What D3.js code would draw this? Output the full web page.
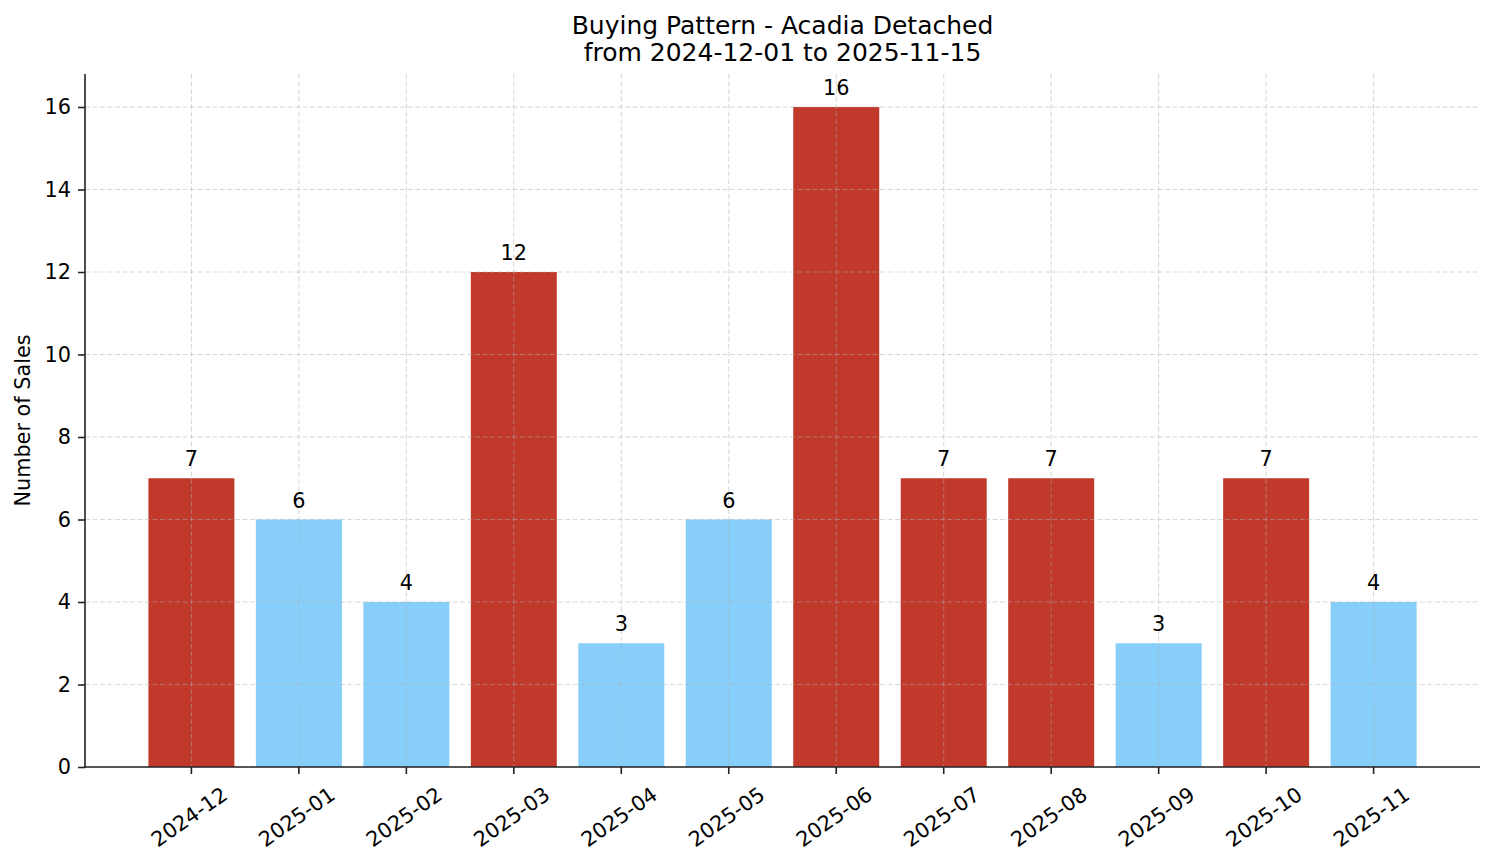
<!DOCTYPE html>
<html>
<head>
<meta charset="utf-8">
<script src="https://cdn.jsdelivr.net/npm/d3@7"></script>
<style>
  body { margin: 0; background: #fff; }
  svg { display: block; font-family: "DejaVu Sans", sans-serif; }
</style>
</head>
<body>
<div id="chart"></div>
<script>
// months and sales counts
const months = ['2024-12', '2025-01', '2025-02', '2025-03', '2025-04', '2025-05',
                '2025-06', '2025-07', '2025-08', '2025-09', '2025-10', '2025-11'];
const sales = [7, 6, 4, 12, 3, 6, 16, 7, 7, 3, 7, 4];
const yTicks = [0, 2, 4, 6, 8, 10, 12, 14, 16];
const titleLines = ['Buying Pattern - Acadia Detached', 'from 2024-12-01 to 2025-11-15'];

document.addEventListener('DOMContentLoaded', function () {
  const w = 1494, h = 863;
  const left = 85, right = 1480, top = 74, bottom = 767;

  const svg = d3.select('#chart').append('svg')
    .attr('width', w)
    .attr('height', h);

  // above-average months get the red colour
  const avg = d3.mean(sales);
  const data = months.map((m, i) => ({ month: m, value: sales[i] }));

  const xScale = d3.scaleBand()
    .domain(months)
    .range([left, right])
    .paddingInner(0.2)
    .paddingOuter(0.59);

  const yScale = d3.scaleLinear()
    .domain([0, 16.8])
    .range([bottom, top]);

  // bars
  svg.selectAll('rect.bar')
    .data(data)
    .enter()
    .append('rect')
    .attr('class', 'bar')
    .attr('x', d => xScale(d.month))
    .attr('width', xScale.bandwidth())
    .attr('y', d => yScale(d.value))
    .attr('height', d => yScale(0) - yScale(d.value))
    .attr('fill', d => d.value > avg ? '#c0392b' : '#87cefa');

  // grid on top of bars, like the original
  const grid = svg.append('g').attr('class', 'grid');
  grid.selectAll('line.gy')
    .data(yTicks)
    .enter()
    .append('line')
    .attr('x1', left).attr('x2', right)
    .attr('y1', d => yScale(d)).attr('y2', d => yScale(d))
    .attr('stroke', '#b0b0b0')
    .attr('stroke-opacity', 0.5)
    .attr('stroke-width', 1)
    .attr('stroke-dasharray', '5,2.5');
  grid.selectAll('line.gx')
    .data(months)
    .enter()
    .append('line')
    .attr('x1', d => xScale(d) + xScale.bandwidth() / 2)
    .attr('x2', d => xScale(d) + xScale.bandwidth() / 2)
    .attr('y1', top).attr('y2', bottom)
    .attr('stroke', '#b0b0b0')
    .attr('stroke-opacity', 0.5)
    .attr('stroke-width', 1)
    .attr('stroke-dasharray', '5,2.5');

  // value labels
  svg.selectAll('text.val')
    .data(data)
    .enter()
    .append('text')
    .attr('class', 'val')
    .attr('x', d => xScale(d.month) + xScale.bandwidth() / 2)
    .attr('y', d => yScale(d.value) - 12)
    .attr('text-anchor', 'middle')
    .attr('font-size', '20.8px')
    .attr('fill', '#000')
    .text(d => d.value);

  // y axis
  const yAxis = d3.axisLeft(yScale).tickValues(yTicks).tickSize(7).tickPadding(7);
  const gy = svg.append('g')
    .attr('transform', 'translate(' + left + ',0)')
    .call(yAxis);
  gy.select('.domain').remove();
  gy.selectAll('.tick line').attr('stroke', '#222').attr('stroke-width', 1.6);
  gy.selectAll('.tick text')
    .attr('font-size', '20.8px')
    .attr('font-family', '"DejaVu Sans", sans-serif')
    .attr('fill', '#000');

  // x axis
  const xAxis = d3.axisBottom(xScale).tickSize(7).tickPadding(6);
  const gx = svg.append('g')
    .attr('transform', 'translate(0,' + bottom + ')')
    .call(xAxis);
  gx.select('.domain').remove();
  gx.selectAll('.tick line').attr('stroke', '#222').attr('stroke-width', 1.6);
  gx.selectAll('.tick text')
    .attr('font-size', '20.8px')
    .attr('font-family', '"DejaVu Sans", sans-serif')
    .attr('fill', '#000')
    .attr('text-anchor', 'middle')
    .attr('dy', null)
    .attr('x', -2)
    .attr('y', 50)
    .attr('dominant-baseline', 'central')
    .attr('transform', 'rotate(-35,-2,50)');

  // spines
  svg.append('line')
    .attr('x1', left).attr('x2', left)
    .attr('y1', top).attr('y2', bottom + 0.8)
    .attr('stroke', '#222').attr('stroke-width', 1.6);
  svg.append('line')
    .attr('x1', left - 0.8).attr('x2', right)
    .attr('y1', bottom).attr('y2', bottom)
    .attr('stroke', '#222').attr('stroke-width', 1.6);

  // title
  svg.selectAll('text.title')
    .data(titleLines)
    .enter()
    .append('text')
    .attr('class', 'title')
    .attr('x', (left + right) / 2)
    .attr('y', (d, i) => 34 + i * 27)
    .attr('text-anchor', 'middle')
    .attr('font-size', '25px')
    .attr('fill', '#000')
    .text(d => d);

  // y label
  svg.append('text')
    .attr('transform', 'translate(30,' + ((top + bottom) / 2) + ') rotate(-90)')
    .attr('text-anchor', 'middle')
    .attr('font-size', '20.8px')
    .attr('fill', '#000')
    .text('Number of Sales');
});
</script>
</body>
</html>
